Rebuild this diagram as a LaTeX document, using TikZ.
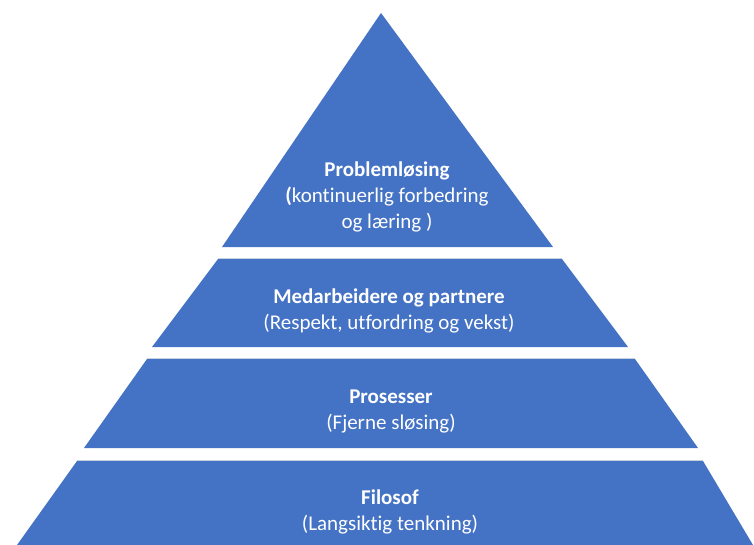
\documentclass[tikz,border=0pt]{standalone}
\usepackage{fontspec}
\setmainfont{Carlito}[Ligatures=NoCommon]
\definecolor{tierblue}{HTML}{4472C4}
\definecolor{tieredge}{HTML}{C9D0DE}
\begin{document}
\begin{tikzpicture}[x=1pt,y=-1pt,
  tier/.style={fill=tierblue,draw=none},
  rim/.style={draw=tieredge,line width=1pt},
  label/.style={text=white,align=center,font=\fontsize{21}{26}\selectfont,inner sep=0pt}]
\useasboundingbox (0,0) rectangle (754,545);
% top triangle
\path[tier] (381,13) -- (553,247) -- (222,247) -- cycle;
% trapezoid tiers
\path[tier] (218,259) -- (562,259) -- (628,347) -- (152,347) -- cycle;
\path[tier] (147,359) -- (635,359) -- (698,448) -- (84,448) -- cycle;
\path[tier] (77,461) -- (703,461) -- (753,545) -- (17,545) -- cycle;
% light rims along the tier tops
\draw[rim] (218,258.5) -- (562,258.5);
\draw[rim] (147,358.5) -- (635,358.5);
\draw[rim] (77,460.5) -- (703,460.5);
% labels
\node[label] (l1) at (387,197) {\textbf{Problemløsing}\\\textbf{(}kontinuerlig forbedring\\og læring )};
\node[label] (l2) at (389,311) {\textbf{Medarbeidere og partnere}\\(Respekt, utfordring og vekst)};
\node[label] (l3) at (391,411) {\textbf{Prosesser}\\(Fjerne sløsing)};
\node[label] (l4) at (390,512) {\textbf{Filosof}\\(Langsiktig tenkning)};
\end{tikzpicture}
\end{document}
